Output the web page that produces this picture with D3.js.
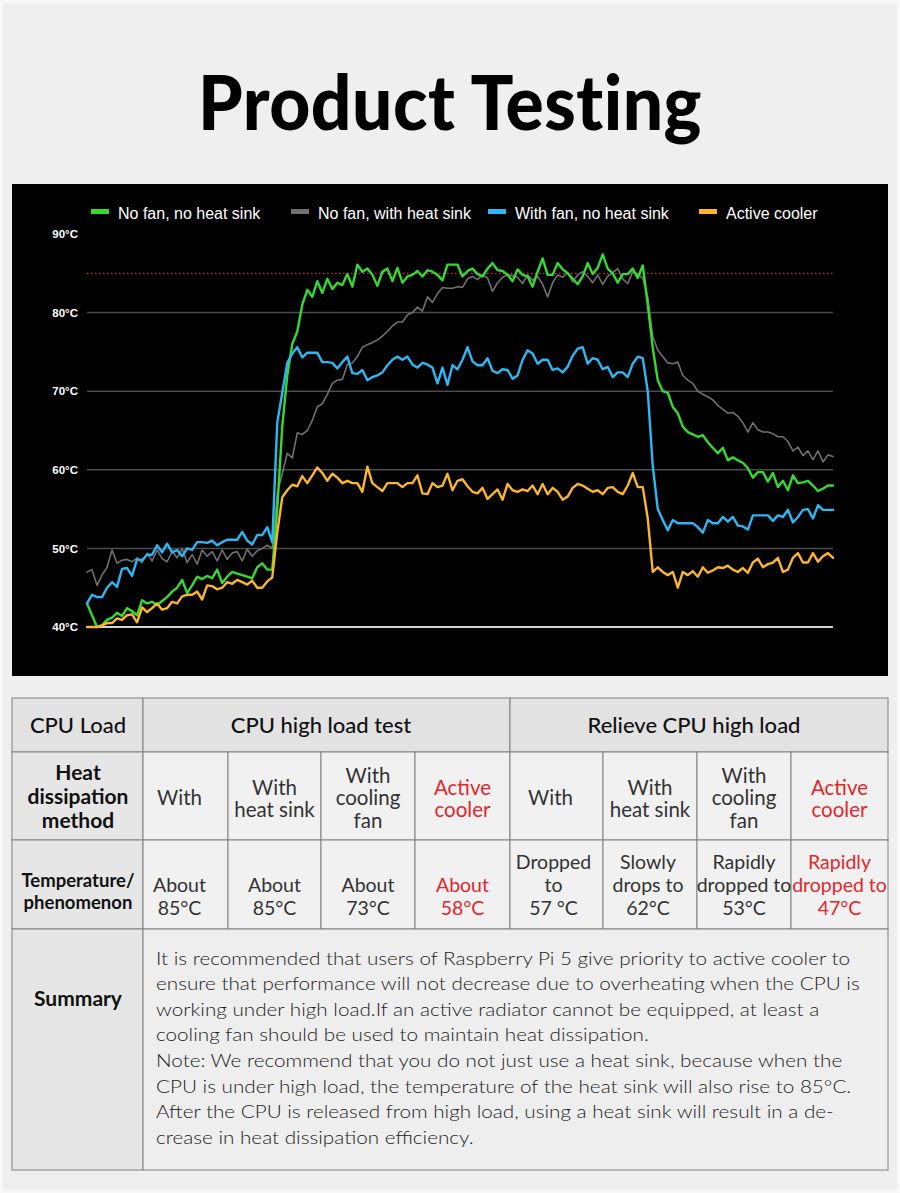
<!DOCTYPE html>
<html><head><meta charset="utf-8">
<script src="https://cdn.jsdelivr.net/npm/d3@7"></script>
<style>body{margin:0;background:#efefef;} svg{display:block}</style>
</head><body><svg id="c" width="900" height="1193"></svg>
<script>
// ---------------- DATA ----------------
const titleText = "Product Testing";
const seriesNames = ["No fan, no heat sink", "No fan, with heat sink", "With fan, no heat sink", "Active cooler"];
const seriesColors = ["#36d832", "#707070", "#2bb8f5", "#fdb52b"];
const yTicks = [40, 50, 60, 70, 80, 90];
const yTickLabels = ["40°C", "50°C", "60°C", "70°C", "80°C", "90°C"];
const gridTemps = [50, 60, 70, 80];
const thresholdTemp = 85;

const noFanNoSink = [43.0,41.5,40.0,40.2,40.9,41.2,41.8,41.4,42.4,42.0,
41.5,43.4,43.0,43.2,42.8,43.3,43.8,44.5,45.0,46.0,
44.3,45.3,46.4,46.1,46.5,46.2,47.3,45.6,46.4,47.0,
46.8,46.6,46.4,46.2,47.6,48.1,47.3,47.3,55.0,65.5,
72.0,76.0,77.6,81.0,82.9,82.0,84.0,82.5,84.3,83.0,
83.8,83.5,84.9,83.3,86.1,85.2,85.6,84.8,83.4,85.2,
85.6,84.0,85.7,83.8,84.6,84.8,85.3,84.6,85.4,85.2,
84.8,84.1,86.1,86.1,86.1,84.6,85.3,85.6,84.9,84.6,
85.6,86.3,85.4,85.3,84.8,84.0,85.5,84.8,84.6,83.3,
85.2,86.9,84.8,84.8,86.3,85.5,85.0,84.3,83.6,84.6,
86.3,84.9,85.7,87.4,85.6,85.0,83.8,84.9,84.9,85.6,
84.4,86.0,81.0,75.5,71.4,70.0,69.8,68.0,67.2,65.5,
64.8,64.5,64.2,64.4,63.5,62.8,62.1,62.8,61.2,61.6,
61.2,60.9,60.2,59.0,59.7,59.7,58.5,59.6,57.8,58.6,
57.4,59.3,58.3,58.4,58.6,58.0,57.3,57.6,58.0,58.0];

const noFanWithSink = [47.0,47.3,45.3,46.6,47.6,49.8,48.1,48.5,48.6,48.3,
48.8,48.2,49.4,48.4,49.8,48.7,48.3,49.6,48.8,50.0,
48.2,49.2,48.0,49.8,49.0,49.6,48.4,49.8,48.6,49.4,
49.6,48.4,49.9,49.0,49.7,50.0,50.4,50.0,57.0,59.5,
62.1,61.5,64.7,64.5,65.0,66.3,68.0,68.4,69.6,71.0,
71.4,71.5,73.4,73.6,74.4,75.6,75.9,76.2,76.5,77.0,
77.6,78.3,78.8,78.8,79.7,80.0,80.7,80.2,82.0,81.3,
82.4,83.2,83.1,83.1,83.3,83.2,84.3,84.6,84.2,84.8,
84.4,82.7,83.8,84.5,84.8,84.7,84.5,83.7,84.8,84.1,
84.6,83.6,82.0,83.8,84.8,84.5,85.1,83.9,84.8,85.2,
84.6,83.8,84.8,83.6,84.6,85.1,85.6,84.3,83.7,85.2,
84.9,84.4,82.0,77.0,75.2,74.4,73.6,73.5,73.7,72.0,
71.4,71.0,70.0,69.6,69.3,68.9,68.2,67.7,67.2,67.3,
66.8,66.0,64.8,66.0,65.1,64.8,64.8,64.6,64.2,64.2,
63.6,62.4,62.9,61.8,62.4,61.3,62.4,61.0,61.9,61.7];

const withFanNoSink = [43.0,44.1,43.8,43.8,45.0,45.7,45.1,47.4,47.5,46.5,
48.6,48.5,49.2,49.2,50.4,49.5,50.6,49.5,49.8,49.0,
50.0,49.8,50.8,50.8,50.7,51.0,50.4,50.8,51.1,51.1,
51.1,52.1,51.0,50.5,51.7,51.7,52.7,50.8,66.0,69.8,
73.6,74.8,75.6,74.3,74.9,74.9,74.9,73.7,73.7,73.6,
72.9,73.7,74.4,72.3,72.2,72.7,71.4,71.8,72.0,72.4,
73.3,74.0,74.4,74.0,74.4,73.4,73.0,73.6,73.4,73.0,
71.0,73.0,70.8,73.3,72.8,74.0,75.6,73.8,73.3,73.3,
74.2,72.6,72.3,72.8,72.7,71.6,72.0,74.0,75.2,74.8,
73.5,74.0,74.0,72.7,72.9,72.4,73.1,74.5,75.4,75.6,
73.5,74.2,74.0,72.8,73.1,71.8,72.4,72.4,71.8,73.5,
74.4,74.2,70.0,60.5,55.0,53.6,52.3,53.6,53.2,53.2,
53.2,53.2,52.7,52.0,53.6,53.2,53.2,54.0,53.4,54.0,
52.9,52.8,52.4,54.2,54.2,54.2,54.2,53.5,54.2,54.0,
54.9,53.3,54.0,54.9,55.0,53.8,55.5,54.9,54.9,54.9];

const activeCooler = [40.0,40.0,40.0,40.2,40.5,40.5,41.1,40.9,41.5,41.6,
40.6,42.5,41.9,42.4,43.0,42.2,42.4,43.2,43.0,43.9,
44.1,44.1,44.5,43.5,45.3,45.2,44.8,45.0,45.7,45.5,
46.0,45.7,45.4,45.9,45.0,45.0,45.8,46.3,52.0,56.5,
57.4,58.1,57.9,59.2,58.3,59.3,60.3,59.6,58.6,59.5,
59.0,58.3,58.6,58.3,58.3,57.2,60.4,58.3,57.8,57.3,
58.3,58.3,58.3,57.8,58.3,58.3,59.3,57.0,56.9,58.3,
57.8,58.0,59.5,57.4,58.6,58.8,57.9,57.2,57.0,57.7,
56.3,56.9,57.5,56.2,58.2,57.4,57.2,57.5,57.3,58.0,
56.9,58.2,56.9,57.7,57.2,56.2,56.6,57.7,58.2,58.0,
57.6,57.2,57.4,56.9,57.7,57.8,57.2,56.9,58.0,59.6,
57.8,57.8,53.8,47.0,47.6,47.0,46.6,47.0,45.0,47.0,
46.6,47.1,46.4,47.6,46.9,47.2,47.6,47.5,47.8,47.3,
47.0,47.5,46.9,48.2,48.7,47.6,48.0,48.2,48.8,47.0,
47.3,48.8,49.4,48.2,48.2,49.4,48.3,49.0,49.4,48.8];

// table content
const tableHeader = ["CPU Load", "CPU high load test", "Relieve CPU high load"];
const methodLabel = ["Heat", "dissipation", "method"];
const methodCells = [["With"], ["With", "heat sink"], ["With", "cooling", "fan"], ["Active", "cooler"],
                     ["With"], ["With", "heat sink"], ["With", "cooling", "fan"], ["Active", "cooler"]];
const tempLabel = ["Temperature/", "phenomenon"];
const tempCells = [["About", "85°C"], ["About", "85°C"], ["About", "73°C"], ["About", "58°C"],
                   ["Dropped", "to", "57 °C"], ["Slowly", "drops to", "62°C"], ["Rapidly", "dropped to", "53°C"], ["Rapidly", "dropped to", "47°C"]];
const highlightCols = [3, 7];
const summaryLabel = "Summary";
const summaryLines = [
  "It is recommended that users of Raspberry Pi 5 give priority to active cooler to",
  "ensure that performance will not decrease due to overheating when the CPU is",
  "working under high load.If an active radiator cannot be equipped, at least a",
  "cooling fan should be used to maintain heat dissipation.",
  "Note: We recommend that you do not just use a heat sink, because when the",
  "CPU is under high load, the temperature of the heat sink will also rise to 85°C.",
  "After the CPU is released from high load, using a heat sink will result in a de-",
  "crease in heat dissipation efficiency."
];

// ---------------- DRAW ----------------
const svg = d3.select("#c");
const FONT = "Lato, 'Noto Sans', 'Liberation Sans', sans-serif";
svg.append("rect").attr("width", 900).attr("height", 1193).attr("fill", "#efefef");
svg.append("rect").attr("x", 1.5).attr("y", 1.5).attr("width", 897).attr("height", 1190)
  .attr("fill", "none").attr("stroke", "#f8f8f8").attr("stroke-width", 3);

svg.append("text").attr("x", 450).attr("y", 130).attr("text-anchor", "middle")
  .attr("font-family", FONT).attr("font-weight", 900).attr("font-size", 76)
  .style("font-variant-ligatures", "none").style("font-feature-settings", "'liga' 0, 'clig' 0")
  .style("letter-spacing", "0.5px")
  .attr("textLength", 504).attr("lengthAdjust", "spacingAndGlyphs")
  .attr("fill", "#000").text(titleText);

// chart panel
svg.append("rect").attr("x", 12).attr("y", 184).attr("width", 876).attr("height", 492).attr("fill", "#000");

const N = noFanNoSink.length;
const x = d3.scaleLinear().domain([0, N - 1]).range([87, 833]);
const y = d3.scaleLinear().domain([40, 90]).range([627, 234]);

const plot = svg.append("g");
plot.selectAll("line.grid").data(gridTemps).join("line").attr("class", "grid")
  .attr("x1", x(0)).attr("x2", x(N - 1)).attr("y1", d => y(d)).attr("y2", d => y(d))
  .attr("stroke", "#4d4d4d").attr("stroke-width", 1.5);
plot.append("line").attr("x1", x(0)).attr("x2", x(N - 1)).attr("y1", y(40)).attr("y2", y(40))
  .attr("stroke", "#d4d4d4").attr("stroke-width", 2);
plot.append("line").attr("x1", x(0)).attr("x2", x(N - 1)).attr("y1", y(thresholdTemp)).attr("y2", y(thresholdTemp))
  .attr("stroke", "#d0302a").attr("stroke-width", 1.2).attr("stroke-dasharray", "1.5,2.5");

const yAxis = d3.axisLeft(y).tickValues(yTicks).tickFormat((d, i) => yTickLabels[i]).tickSize(0).tickPadding(9);
const ga = plot.append("g").attr("transform", `translate(${x(0)},0)`).call(yAxis);
ga.select(".domain").remove();
ga.selectAll("text").attr("fill", "#fff").attr("font-family", "'Liberation Sans', Arial, sans-serif")
  .attr("font-weight", "bold").attr("font-size", 11.5);

const line = d3.line().x((d, i) => x(i)).y(d => y(d));
const allSeries = [noFanWithSink, noFanNoSink, withFanNoSink, activeCooler];
const order = [1, 0, 2, 3];
order.forEach((si, k) => {
  plot.append("path").datum(allSeries[k])
    .attr("d", line).attr("fill", "none")
    .attr("stroke", seriesColors[si])
    .attr("stroke-width", si === 1 ? 1.6 : 2.4)
    .attr("stroke-linejoin", "round").attr("stroke-linecap", "round");
});

// legend
const legendX = [91, 291, 488, 699];
const lg = svg.append("g");
seriesNames.forEach((name, i) => {
  lg.append("rect").attr("x", legendX[i]).attr("y", 209).attr("width", 18).attr("height", 5).attr("fill", seriesColors[i]);
  lg.append("text").attr("x", legendX[i] + 27).attr("y", 218.5).attr("fill", "#fff")
    .attr("font-family", "'Liberation Sans', Arial, sans-serif").attr("font-size", 16).text(name);
});

// ---------------- TABLE ----------------
const colEdges = [12, 143, 228, 321, 415, 510, 603, 697, 791, 888];
const rowEdges = [698, 752, 840, 929, 1170];
const tg = svg.append("g");
const headFill = "#e2e2e2", sideFill = "#e6e6e6", cellFill = "#f1f1f1", red = "#e3262b", ink = "#222";

function cellRect(c0, c1, r, fill) {
  tg.append("rect").attr("x", colEdges[c0]).attr("y", rowEdges[r])
    .attr("width", colEdges[c1] - colEdges[c0]).attr("height", rowEdges[r + 1] - rowEdges[r])
    .attr("fill", fill).attr("stroke", "#808080").attr("stroke-width", 1);
}
function lines(cx, baseFirst, arr, step, opts) {
  arr.forEach((t, i) => {
    tg.append("text").attr("x", cx).attr("y", baseFirst + i * step).attr("text-anchor", "middle")
      .attr("font-family", FONT).attr("font-size", opts.size).attr("font-weight", opts.weight || 400)
      .attr("fill", opts.color || ink).text(t);
  });
}

// row 0
cellRect(0, 1, 0, headFill);
cellRect(1, 5, 0, headFill);
cellRect(5, 9, 0, headFill);
lines(78, 733, [tableHeader[0]], 0, {size: 22, weight: 500, color: "#111"});
lines(321, 733, [tableHeader[1]], 0, {size: 22, weight: 500, color: "#111"});
lines(694, 733, [tableHeader[2]], 0, {size: 22, weight: 500, color: "#111"});

// row 1
cellRect(0, 1, 1, sideFill);
for (let c = 1; c <= 8; c++) cellRect(c, c + 1, 1, cellFill);
lines(78, 780, methodLabel, 24, {size: 21, weight: 700, color: "#111"});
methodCells.forEach((arr, i) => {
  const c0 = colEdges[i + 1], c1 = colEdges[i + 2];
  let cx = (c0 + c1) / 2; if (i === 0 || i === 4) cx -= 6;
  const first = 805 - (arr.length - 1) / 2 * 22.5 + (arr.length === 2 ? 1 : 0);
  lines(cx, first, arr, 22.5, {size: 20.5, color: highlightCols.includes(i) ? red : "#333"});
});

// row 2
cellRect(0, 1, 2, sideFill);
for (let c = 1; c <= 8; c++) cellRect(c, c + 1, 2, cellFill);
lines(78, 886.5, tempLabel, 22, {size: 18.5, weight: 700, color: "#111"});
tempCells.forEach((arr, i) => {
  const c0 = colEdges[i + 1], c1 = colEdges[i + 2];
  let cx = (c0 + c1) / 2; if (i === 0) cx -= 6; if (i === 4) cx -= 3; if (i === 5) cx -= 2;
  const last = 915;
  const first = last - (arr.length - 1) * 23;
  lines(cx, first, arr, 23, {size: 19.5, color: highlightCols.includes(i) ? red : "#333"});
});

// row 3
cellRect(0, 1, 3, sideFill);
cellRect(1, 9, 3, "#eeeeee");
lines(78, 1006, [summaryLabel], 0, {size: 21, weight: 700, color: "#111"});
const sumTexts = summaryLines.map((t, i) =>
  tg.append("text").attr("x", 156).attr("y", 964.5 + i * 25.6)
    .attr("font-family", FONT).attr("font-weight", 300).attr("font-size", 18)
    .attr("fill", "#222").text(t));
const nat0 = sumTexts[0].node().getComputedTextLength();
const k = 694 / nat0;
sumTexts.forEach(s => {
  const w = s.node().getComputedTextLength();
  s.attr("textLength", w * k).attr("lengthAdjust", "spacingAndGlyphs");
});
</script></body></html>
